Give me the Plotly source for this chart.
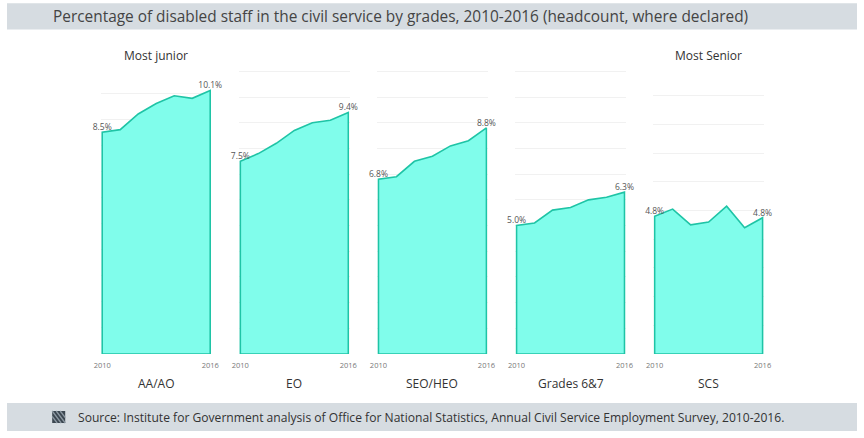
import plotly.graph_objects as go

years = [2010, 2011, 2012, 2013, 2014, 2015, 2016]
grades = ["AA/AO", "EO", "SEO/HEO", "Grades 6&7", "SCS"]
aa_ao = [8.5, 8.6, 9.2, 9.6, 9.9, 9.8, 10.1]
eo = [7.5, 7.8, 8.2, 8.7, 9.0, 9.1, 9.4]
seo_heo = [6.8, 6.9, 7.5, 7.7, 8.1, 8.3, 8.8]
grades_6_7 = [5.0, 5.1, 5.6, 5.7, 6.0, 6.1, 6.3]
scs = [4.8, 5.05, 4.5, 4.6, 5.15, 4.4, 4.75]
series = [aa_ao, eo, seo_heo, grades_6_7, scs]
y_max = [11.0, 11.17, 11.17, 11.17, 10.0]

W, H = 864, 438
FONT = "Open Sans"
LINE = "#1fc4a6"
FILL = "#80fdeb"
BAR = "#d6dce1"


def px(x):
    # screen x -> paper (page shows the figure a bit shifted/squeezed sideways)
    return min(max((x - 7.9) / 0.982 / W, 0), 1)


def py(y):
    return (H - y) / H


def note(x, y, text, size, color="#333", anchor="center"):
    return dict(x=px(x), y=py(y), xref="paper", yref="paper", text=text,
                showarrow=False, xanchor=anchor, yanchor="middle",
                font=dict(size=size, color=color, family=FONT))


fig = go.Figure()
layout = dict(
    width=W, height=H, margin=dict(l=0, r=0, t=0, b=0),
    paper_bgcolor="white", plot_bgcolor="white", showlegend=False,
    font=dict(family=FONT, color="#444"),
)

left, width, pitch = 101.7, 110.3, 137.85
for i, (name, vals) in enumerate(zip(grades, series)):
    n = i + 1
    xa = "x" if n == 1 else "x%d" % n
    ya = "y" if n == 1 else "y%d" % n
    # closed outline: baseline -> values -> baseline
    xs = [years[0]] + years + [years[-1], years[0]]
    ys = [0] + vals + [0, 0]
    fig.add_trace(go.Scatter(x=xs, y=ys, mode="lines", fill="toself",
                             fillcolor=FILL, line=dict(color=LINE, width=1.6),
                             xaxis=xa, yaxis=ya, hoverinfo="skip"))
    fig.add_trace(go.Scatter(x=[years[0], years[-1]], y=[vals[0], vals[-1]],
                             mode="text", text=["%.1f%%" % vals[0], "%.1f%%" % vals[-1]],
                             textposition="top center", cliponaxis=False,
                             textfont=dict(size=8.5, color="#555", family=FONT),
                             xaxis=xa, yaxis=ya, hoverinfo="skip"))
    x0 = left + i * pitch
    layout["xaxis" if n == 1 else "xaxis%d" % n] = dict(
        domain=[px(x0), px(x0 + width)], range=[2009.93, 2016.07],
        tickvals=[years[0], years[-1]], ticks="", showgrid=False, zeroline=False,
        showline=False, tickfont=dict(size=7.5, color="#777"), ticklabelstandoff=5,
        anchor=ya, fixedrange=True,
    )
    layout["yaxis" if n == 1 else "yaxis%d" % n] = dict(
        domain=[py(354), py(67)], range=[0, y_max[i]], dtick=1,
        showgrid=True, gridcolor="#f1f1f1", gridwidth=1, zeroline=False,
        showticklabels=False, showline=False, anchor=xa, fixedrange=True,
    )

fig.update_layout(**layout)

annotations = [note(left + i * pitch + width / 2, 383, name, 12) for i, name in enumerate(grades)]
annotations.append(note(left + width / 2, 55, "Most junior", 12))
annotations.append(note(left + 4 * pitch + width / 2, 55, "Most Senior", 12))
annotations.append(note(52, 16.5, "Percentage of disabled staff in the civil service by grades, 2010-2016 (headcount, where declared)",
                        15.4, "#444", "left"))
annotations.append(note(77, 417, "Source: Institute for Government analysis of Office for National Statistics, Annual Civil Service Employment Survey, 2010-2016.",
                        12.1, "#333", "left"))

shapes = [
    dict(type="rect", xref="paper", yref="paper", x0=px(5), x1=px(859), y0=py(29.5), y1=py(3.3),
         fillcolor=BAR, line=dict(width=0), layer="below"),
    dict(type="rect", xref="paper", yref="paper", x0=px(5), x1=px(859), y0=py(431), y1=py(403),
         fillcolor=BAR, line=dict(width=0), layer="below"),
    # little striped logo in the footer
    dict(type="rect", xref="paper", yref="paper", x0=px(53), x1=px(66), y0=py(423), y1=py(411),
         fillcolor="#3b4650", line=dict(width=0)),
]
for k in range(4):
    s = 53 + k * 4 - 4
    shapes.append(dict(type="line", xref="paper", yref="paper",
                       x0=px(max(s, 53)), y0=py(411 + max(0, 53 - s) * 12 / 9),
                       x1=px(min(s + 9, 66)), y1=py(411 + (min(s + 9, 66) - s) * 12 / 9),
                       line=dict(color="#8c98a2", width=1.3)))

fig.update_layout(annotations=annotations, shapes=shapes)
# the page's default body margin pushes the figure off the window
fig.write_html("out.html", config={"displayModeBar": False},
               post_script="document.body.style.margin='0px';document.body.style.overflow='hidden';")
